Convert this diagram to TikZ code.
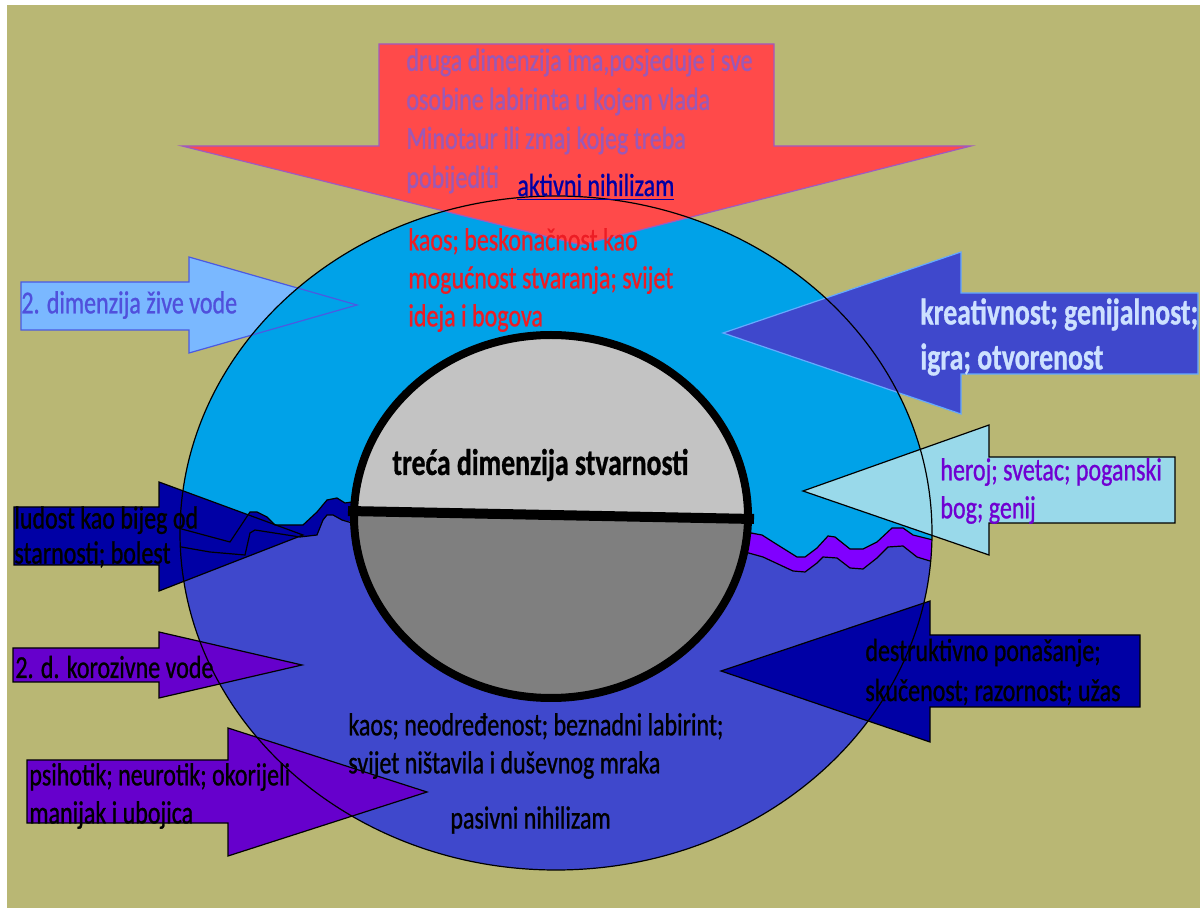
\documentclass[tikz,border=0pt]{standalone}
\usepackage{fontspec}
\setmainfont{Carlito}
\newfontfamily\tallfont[FakeStretch=0.75, FakeBold=0.8]{Carlito}
\definecolor{khaki}{RGB}{185,183,116}
\definecolor{upperwater}{RGB}{0,162,232}
\definecolor{lowerwater}{RGB}{63,72,204}
\definecolor{bandnavy}{RGB}{0,0,165}
\definecolor{bandviolet}{RGB}{128,0,255}
\definecolor{coreup}{RGB}{195,195,195}
\definecolor{coredown}{RGB}{127,127,127}
\definecolor{arrowred}{RGB}{255,74,74}
\definecolor{redline}{RGB}{160,90,190}
\definecolor{zivefill}{RGB}{122,184,255}
\definecolor{zivedraw}{RGB}{75,90,225}
\definecolor{kreadraw}{RGB}{100,170,255}
\definecolor{herojfill}{RGB}{153,217,234}
\definecolor{korofill}{RGB}{102,0,204}
\definecolor{lavtext}{RGB}{155,89,182}
\definecolor{kaosred}{RGB}{237,28,36}
\definecolor{zivetext}{RGB}{80,80,220}
\definecolor{kreatext}{RGB}{205,225,255}
\definecolor{herojtext}{RGB}{112,0,210}
\tikzset{
  lbl/.style={anchor=west, inner sep=0pt, align=left, font=\tallfont\fontsize{16}{19}\selectfont},
  boldlbl/.style={lbl, font=\tallfont\fontsize{18.5}{22.5}\selectfont\bfseries},
  thin/.style={line width=0.6pt}
}
\begin{document}
\begin{tikzpicture}[x=0.5pt,y=-0.5pt]
\useasboundingbox (0,0) rectangle (1200,908);
\fill[white] (0,0) rectangle (1200,908);
\fill[khaki] (7,5) rectangle (1200,908);
\fill[zivefill] (21,282) -- (189,282) -- (189,257) -- (357,305) -- (189,353) -- (189,330) -- (21,330) -- cycle;
\fill[lowerwater] (556,533) ellipse [x radius=188pt, y radius=168.5pt];
\begin{scope}
  \clip (556,533) ellipse [x radius=188pt, y radius=168.5pt];
  \fill[upperwater] (150,100) -- (150,528) -- (178,528) -- (230,542) -- (240,527) -- (250,512) -- (257,512) -- (267,517) -- (275,525) -- (303,525) -- (317,512) -- (327,500) -- (337,498) -- (345,503) -- (352,502) -- (752,532) -- (762,535) -- (773,542) -- (797,557) -- (805,557) -- (817,548) -- (828,536) -- (835,537) -- (850,549) -- (863,549) -- (877,542) -- (892,528) -- (903,528) -- (913,535) -- (945,543) -- (945,100) -- cycle;
  \fill[bandnavy] (170,528) -- (178,528) -- (230,542) -- (240,527) -- (250,512) -- (257,512) -- (267,517) -- (275,525) -- (303,525) -- (317,512) -- (327,500) -- (337,498) -- (345,503) -- (360,502) -- (360,523) -- (342,520) -- (333,515) -- (327,515) -- (323,520) -- (317,535) -- (300,537) -- (255,530) -- (250,533) -- (245,555) -- (210,552) -- (170,545) -- cycle;
  \filldraw[fill=bandviolet, draw=black, thin] (745,532) -- (762,535) -- (773,542) -- (797,557) -- (805,557) -- (817,548) -- (828,536) -- (835,537) -- (850,549) -- (863,549) -- (877,542) -- (892,528) -- (903,528) -- (913,535) -- (945,543) -- (945,561) -- (930,561) -- (917,557) -- (903,546) -- (888,547) -- (877,558) -- (863,569) -- (850,568) -- (837,558) -- (823,557) -- (817,563) -- (805,572) -- (793,571) -- (763,557) -- (745,552) -- cycle;
\end{scope}
\begin{scope}
  \clip (551,516.5) ellipse [x radius=98.5pt, y radius=90.75pt];
  \fill[coredown] (340,320) rectangle (765,710);
  \fill[coreup] (340,320) -- (340,511) -- (765,519) -- (765,320) -- cycle;
\end{scope}
\draw[line width=5pt] (348,511) -- (754,519);
\draw[line width=4pt] (551,516.5) ellipse [x radius=98.5pt, y radius=90.75pt];
\draw[zivedraw, thin] (21,282) -- (189,282) -- (189,257) -- (357,305) -- (189,353) -- (189,330) -- (21,330) -- cycle;
\filldraw[fill=arrowred, draw=redline, thin] (379,44) -- (774,44) -- (774,146) -- (971,146) -- (581,245) -- (182,146) -- (379,146) -- cycle;
\filldraw[fill=lowerwater, draw=kreadraw, thin] (1198,293) -- (961,293) -- (961,252) -- (723,333) -- (961,414) -- (961,374) -- (1198,374) -- cycle;
\filldraw[fill=herojfill, draw=black, thin] (1175,457) -- (989,457) -- (989,425) -- (803,491) -- (989,555) -- (989,523) -- (1175,523) -- cycle;
\filldraw[fill=bandnavy, draw=black, thin] (14,507) -- (159,507) -- (159,482) -- (303,535) -- (159,591) -- (159,565) -- (14,565) -- cycle;
\filldraw[fill=korofill, draw=black, thin] (13,648) -- (159,648) -- (159,632) -- (302,665) -- (159,698) -- (159,682) -- (13,682) -- cycle;
\filldraw[fill=korofill, draw=black, thin] (27,760) -- (228,760) -- (228,728) -- (427,792) -- (228,856) -- (228,823) -- (27,823) -- cycle;
\filldraw[fill=bandnavy, draw=black, thin] (1140,635) -- (930,635) -- (930,601) -- (721,671) -- (930,742) -- (930,707) -- (1140,707) -- cycle;
\begin{scope}
  \clip (556,533) ellipse [x radius=188pt, y radius=168.5pt];
  \draw[thin] (170,528) -- (178,528) -- (230,542) -- (240,527) -- (250,512) -- (257,512) -- (267,517) -- (275,525) -- (303,525) -- (317,512) -- (327,500) -- (337,498) -- (345,503) -- (352,502);
  \draw[thin] (352,523) -- (342,520) -- (333,515) -- (327,515) -- (323,520) -- (317,535) -- (300,537) -- (255,530) -- (250,533) -- (245,555) -- (210,552) -- (170,545);
\end{scope}
\draw[thin] (556,533) ellipse [x radius=188pt, y radius=168.5pt];
\node[lbl, text=lavtext, font=\tallfont\fontsize{16}{19.5}\selectfont] (redtext) at (406,121) {druga dimenzija ima,posjeduje i sve\\osobine labirinta u kojem vlada\\Minotaur ili zmaj kojeg treba\\pobijediti};
\node[lbl, text=bandnavy] (aktivni) at (517,187) {\underline{aktivni nihilizam}};
\node[lbl, text=kaosred] (kaosgore) at (408,280) {kaos; beskonačnost kao\\mogućnost stvaranja; svijet\\ideja i bogova};
\node[lbl, text=zivetext] (zivetxt) at (21,305) {2. dimenzija žive vode};
\node[boldlbl, text=kreatext] (kreatxt) at (920,337) {kreativnost; genijalnost;\\igra; otvorenost};
\node[lbl, text=herojtext] (herojtxt) at (940,491) {heroj; svetac; poganski\\bog; genij};
\node[boldlbl] (trecatxt) at (392,465) {treća dimenzija stvarnosti};
\node[lbl, font=\tallfont\fontsize{16}{17.5}\selectfont] (ludosttxt) at (14,537) {ludost kao bijeg od\\starnosti; bolest};
\node[lbl] (korotxt) at (15,667) {2. d. korozivne vode};
\node[lbl, font=\tallfont\fontsize{16}{20}\selectfont] (destrtxt) at (865,672) {destruktivno ponašanje;\\skučenost; razornost; užas};
\node[lbl] (kaosdolje) at (348,746) {kaos; neodređenost; beznadni labirint;\\svijet ništavila i duševnog mraka};
\node[lbl] (pasivni) at (450,820) {pasivni nihilizam};
\node[lbl] (psihotxt) at (29,796) {psihotik; neurotik; okorijeli\\manijak i ubojica};
\end{tikzpicture}
\end{document}
